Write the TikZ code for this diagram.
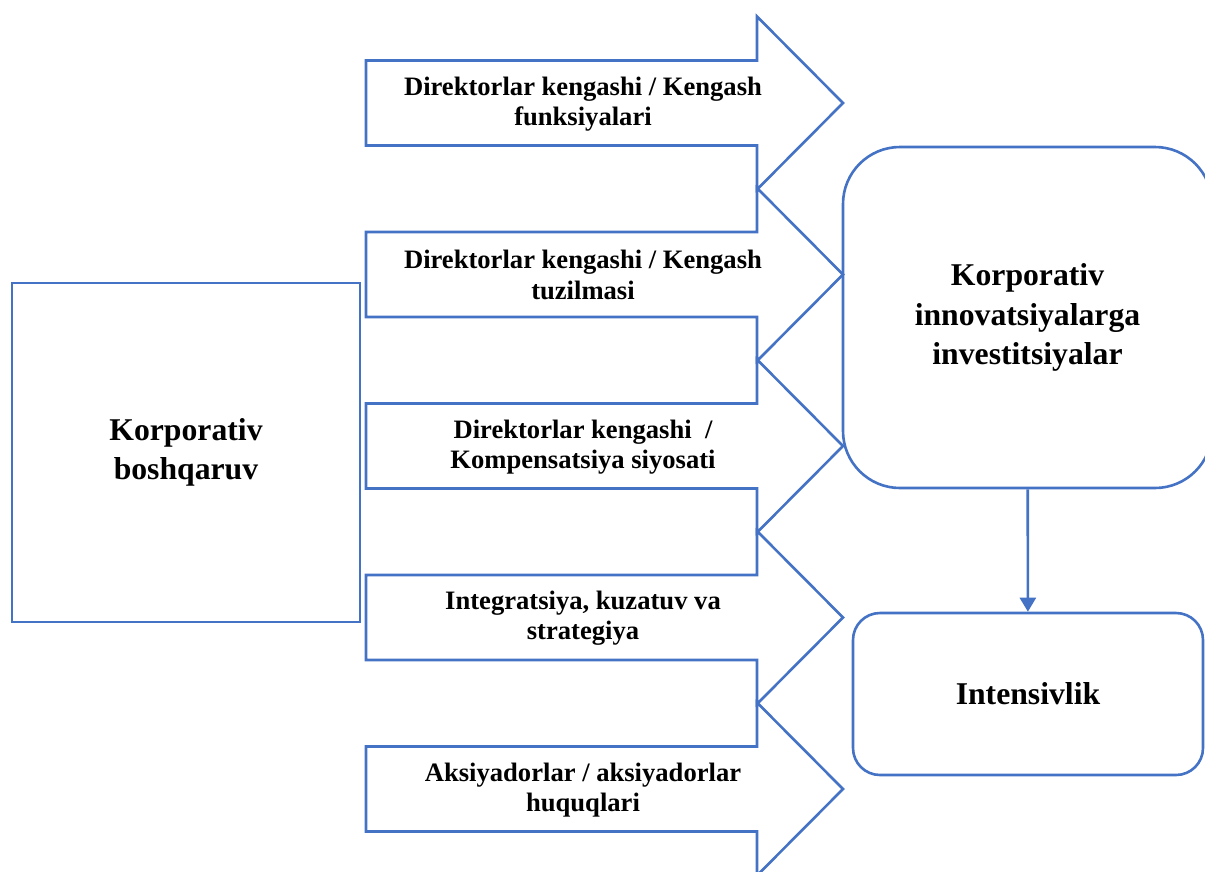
\documentclass[tikz,border=0pt]{standalone}
\usepackage{fontspec}
\setmainfont{Liberation Serif}
\usetikzlibrary{arrows.meta}
\definecolor{blockblue}{HTML}{4472C4}
\newcommand{\smalltxt}{\fontsize{26.6}{30.5}\selectfont\bfseries}
\newcommand{\bigtxt}{\fontsize{31.7}{39.5}\selectfont\bfseries}
\begin{document}
\begin{tikzpicture}[x=1pt,y=-1pt,
    outline/.style = {draw=blockblue,line width=2.6pt},
    bigbox/.style = {outline,align=center,font=\bigtxt,inner sep=0pt},
    label/.style = {align=center,font=\smalltxt,inner sep=0pt},
    link/.style = {draw=blockblue,line width=2.6pt,-{Triangle[length=14pt,width=16pt]}}]
    \useasboundingbox (0,0) rectangle (1205,871);

    % block arrows
    \foreach \yc in {103,274.5,446,617.5,789}
        \draw[outline] (366,\yc-42.5) -- (757,\yc-42.5) -- (757,\yc-86.5) -- (843,\yc)
            -- (757,\yc+86.5) -- (757,\yc+42.5) -- (366,\yc+42.5) -- cycle;

    \node[label] (funk) at (583,104) {Direktorlar kengashi / Kengash\\funksiyalari};
    \node[label] (tuz)  at (583,275) {Direktorlar kengashi / Kengash\\tuzilmasi};
    \node[label] (komp) at (583,447) {Direktorlar kengashi\ \ /\\Kompensatsiya siyosati};
    \node[label] (integ) at (583,618) {Integratsiya, kuzatuv va\\strategiya};
    \node[label] (aksiya) at (583,790) {Aksiyadorlar / aksiyadorlar\\huquqlari};

    % boxes
    \node[bigbox,minimum width=348pt,minimum height=339pt] (kb) at (186,452.5) {Korporativ\\boshqaruv};
    \node[bigbox,rounded corners=57pt,minimum width=369pt,minimum height=341pt] (inv) at (1027.5,317.5)
        {Korporativ\\innovatsiyalarga\\investitsiyalar};
    \node[bigbox,rounded corners=27pt,minimum width=350pt,minimum height=162pt] (int) at (1028,694) {Intensivlik};

    \draw[link] (inv) -- (int);
\end{tikzpicture}
\end{document}
